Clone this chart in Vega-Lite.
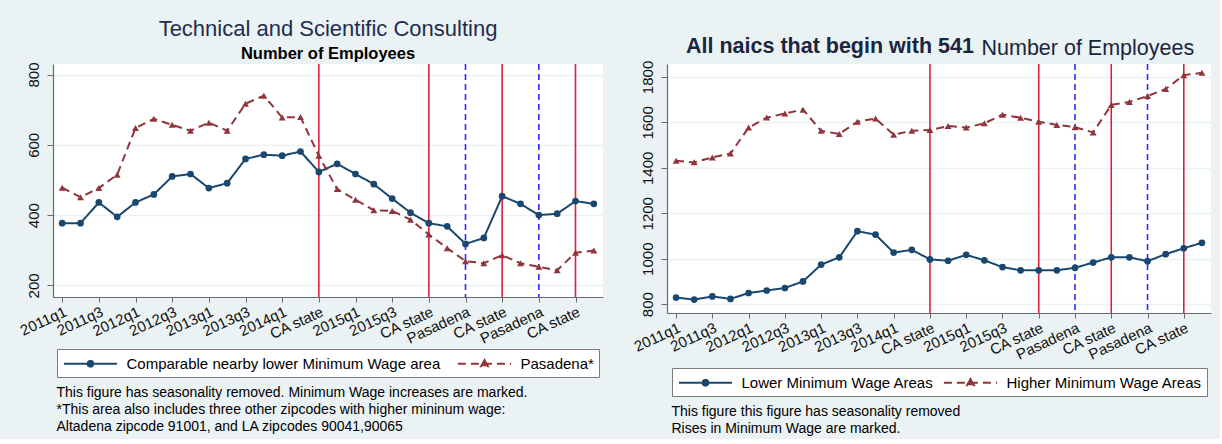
{
  "$schema": "https://vega.github.io/schema/vega-lite/v6.json",
  "background": "#eaf2f3",
  "padding": {"left": 17, "top": 18, "right": 9, "bottom": 4},
  "config": {
    "font": "Liberation Sans",
    "view": {"fill": "white", "stroke": null},
    "axis": {"labelFont": "Liberation Sans", "titleFont": "Liberation Sans", "domainColor": "#6a6a6a", "tickColor": "#6a6a6a", "labelColor": "#111111", "titleColor": "#000000", "domainWidth": 1.2},
    "legend": {"labelFont": "Liberation Sans"},
    "title": {"font": "Liberation Sans", "subtitleFont": "Liberation Sans"}
  },
  "datasets": {
    "ca": [{"quarter": "2014q3"}, {"quarter": "2016q1"}, {"quarter": "2017q1"}, {"quarter": "2018q1"}],
    "pas": [{"quarter": "2016q3"}, {"quarter": "2017q3"}],
    "consulting": [
      {"quarter": "2011q1", "series": "Comparable nearby lower Minimum Wage area", "employees": 377},
      {"quarter": "2011q2", "series": "Comparable nearby lower Minimum Wage area", "employees": 377},
      {"quarter": "2011q3", "series": "Comparable nearby lower Minimum Wage area", "employees": 436},
      {"quarter": "2011q4", "series": "Comparable nearby lower Minimum Wage area", "employees": 395},
      {"quarter": "2012q1", "series": "Comparable nearby lower Minimum Wage area", "employees": 436},
      {"quarter": "2012q2", "series": "Comparable nearby lower Minimum Wage area", "employees": 459},
      {"quarter": "2012q3", "series": "Comparable nearby lower Minimum Wage area", "employees": 510},
      {"quarter": "2012q4", "series": "Comparable nearby lower Minimum Wage area", "employees": 517},
      {"quarter": "2013q1", "series": "Comparable nearby lower Minimum Wage area", "employees": 477},
      {"quarter": "2013q2", "series": "Comparable nearby lower Minimum Wage area", "employees": 491},
      {"quarter": "2013q3", "series": "Comparable nearby lower Minimum Wage area", "employees": 560},
      {"quarter": "2013q4", "series": "Comparable nearby lower Minimum Wage area", "employees": 572},
      {"quarter": "2014q1", "series": "Comparable nearby lower Minimum Wage area", "employees": 569},
      {"quarter": "2014q2", "series": "Comparable nearby lower Minimum Wage area", "employees": 581},
      {"quarter": "2014q3", "series": "Comparable nearby lower Minimum Wage area", "employees": 523},
      {"quarter": "2014q4", "series": "Comparable nearby lower Minimum Wage area", "employees": 546},
      {"quarter": "2015q1", "series": "Comparable nearby lower Minimum Wage area", "employees": 517},
      {"quarter": "2015q2", "series": "Comparable nearby lower Minimum Wage area", "employees": 488},
      {"quarter": "2015q3", "series": "Comparable nearby lower Minimum Wage area", "employees": 447},
      {"quarter": "2015q4", "series": "Comparable nearby lower Minimum Wage area", "employees": 407},
      {"quarter": "2016q1", "series": "Comparable nearby lower Minimum Wage area", "employees": 377},
      {"quarter": "2016q2", "series": "Comparable nearby lower Minimum Wage area", "employees": 368},
      {"quarter": "2016q3", "series": "Comparable nearby lower Minimum Wage area", "employees": 318},
      {"quarter": "2016q4", "series": "Comparable nearby lower Minimum Wage area", "employees": 335},
      {"quarter": "2017q1", "series": "Comparable nearby lower Minimum Wage area", "employees": 454},
      {"quarter": "2017q2", "series": "Comparable nearby lower Minimum Wage area", "employees": 432},
      {"quarter": "2017q3", "series": "Comparable nearby lower Minimum Wage area", "employees": 400},
      {"quarter": "2017q4", "series": "Comparable nearby lower Minimum Wage area", "employees": 404},
      {"quarter": "2018q1", "series": "Comparable nearby lower Minimum Wage area", "employees": 440},
      {"quarter": "2018q2", "series": "Comparable nearby lower Minimum Wage area", "employees": 432},
      {"quarter": "2011q1", "series": "Pasadena*", "employees": 478},
      {"quarter": "2011q2", "series": "Pasadena*", "employees": 451},
      {"quarter": "2011q3", "series": "Pasadena*", "employees": 477},
      {"quarter": "2011q4", "series": "Pasadena*", "employees": 515},
      {"quarter": "2012q1", "series": "Pasadena*", "employees": 648},
      {"quarter": "2012q2", "series": "Pasadena*", "employees": 674},
      {"quarter": "2012q3", "series": "Pasadena*", "employees": 657},
      {"quarter": "2012q4", "series": "Pasadena*", "employees": 640},
      {"quarter": "2013q1", "series": "Pasadena*", "employees": 663},
      {"quarter": "2013q2", "series": "Pasadena*", "employees": 640},
      {"quarter": "2013q3", "series": "Pasadena*", "employees": 717},
      {"quarter": "2013q4", "series": "Pasadena*", "employees": 740},
      {"quarter": "2014q1", "series": "Pasadena*", "employees": 678},
      {"quarter": "2014q2", "series": "Pasadena*", "employees": 679},
      {"quarter": "2014q3", "series": "Pasadena*", "employees": 569},
      {"quarter": "2014q4", "series": "Pasadena*", "employees": 474},
      {"quarter": "2015q1", "series": "Pasadena*", "employees": 444},
      {"quarter": "2015q2", "series": "Pasadena*", "employees": 414},
      {"quarter": "2015q3", "series": "Pasadena*", "employees": 412},
      {"quarter": "2015q4", "series": "Pasadena*", "employees": 387},
      {"quarter": "2016q1", "series": "Pasadena*", "employees": 345},
      {"quarter": "2016q2", "series": "Pasadena*", "employees": 306},
      {"quarter": "2016q3", "series": "Pasadena*", "employees": 269},
      {"quarter": "2016q4", "series": "Pasadena*", "employees": 263},
      {"quarter": "2017q1", "series": "Pasadena*", "employees": 286},
      {"quarter": "2017q2", "series": "Pasadena*", "employees": 263},
      {"quarter": "2017q3", "series": "Pasadena*", "employees": 253},
      {"quarter": "2017q4", "series": "Pasadena*", "employees": 243},
      {"quarter": "2018q1", "series": "Pasadena*", "employees": 293},
      {"quarter": "2018q2", "series": "Pasadena*", "employees": 299}
    ],
    "naics541": [
      {"quarter": "2011q1", "area": "Lower Minimum Wage Areas", "employees": 829},
      {"quarter": "2011q2", "area": "Lower Minimum Wage Areas", "employees": 820},
      {"quarter": "2011q3", "area": "Lower Minimum Wage Areas", "employees": 834},
      {"quarter": "2011q4", "area": "Lower Minimum Wage Areas", "employees": 823},
      {"quarter": "2012q1", "area": "Lower Minimum Wage Areas", "employees": 849},
      {"quarter": "2012q2", "area": "Lower Minimum Wage Areas", "employees": 860},
      {"quarter": "2012q3", "area": "Lower Minimum Wage Areas", "employees": 871},
      {"quarter": "2012q4", "area": "Lower Minimum Wage Areas", "employees": 900},
      {"quarter": "2013q1", "area": "Lower Minimum Wage Areas", "employees": 974},
      {"quarter": "2013q2", "area": "Lower Minimum Wage Areas", "employees": 1006},
      {"quarter": "2013q3", "area": "Lower Minimum Wage Areas", "employees": 1121},
      {"quarter": "2013q4", "area": "Lower Minimum Wage Areas", "employees": 1106},
      {"quarter": "2014q1", "area": "Lower Minimum Wage Areas", "employees": 1027},
      {"quarter": "2014q2", "area": "Lower Minimum Wage Areas", "employees": 1039},
      {"quarter": "2014q3", "area": "Lower Minimum Wage Areas", "employees": 997},
      {"quarter": "2014q4", "area": "Lower Minimum Wage Areas", "employees": 991},
      {"quarter": "2015q1", "area": "Lower Minimum Wage Areas", "employees": 1017},
      {"quarter": "2015q2", "area": "Lower Minimum Wage Areas", "employees": 993},
      {"quarter": "2015q3", "area": "Lower Minimum Wage Areas", "employees": 963},
      {"quarter": "2015q4", "area": "Lower Minimum Wage Areas", "employees": 949},
      {"quarter": "2016q1", "area": "Lower Minimum Wage Areas", "employees": 949},
      {"quarter": "2016q2", "area": "Lower Minimum Wage Areas", "employees": 949},
      {"quarter": "2016q3", "area": "Lower Minimum Wage Areas", "employees": 960},
      {"quarter": "2016q4", "area": "Lower Minimum Wage Areas", "employees": 983},
      {"quarter": "2017q1", "area": "Lower Minimum Wage Areas", "employees": 1006},
      {"quarter": "2017q2", "area": "Lower Minimum Wage Areas", "employees": 1006},
      {"quarter": "2017q3", "area": "Lower Minimum Wage Areas", "employees": 989},
      {"quarter": "2017q4", "area": "Lower Minimum Wage Areas", "employees": 1020},
      {"quarter": "2018q1", "area": "Lower Minimum Wage Areas", "employees": 1046},
      {"quarter": "2018q2", "area": "Lower Minimum Wage Areas", "employees": 1070},
      {"quarter": "2011q1", "area": "Higher Minimum Wage Areas", "employees": 1431},
      {"quarter": "2011q2", "area": "Higher Minimum Wage Areas", "employees": 1424},
      {"quarter": "2011q3", "area": "Higher Minimum Wage Areas", "employees": 1446},
      {"quarter": "2011q4", "area": "Higher Minimum Wage Areas", "employees": 1463},
      {"quarter": "2012q1", "area": "Higher Minimum Wage Areas", "employees": 1577},
      {"quarter": "2012q2", "area": "Higher Minimum Wage Areas", "employees": 1621},
      {"quarter": "2012q3", "area": "Higher Minimum Wage Areas", "employees": 1639},
      {"quarter": "2012q4", "area": "Higher Minimum Wage Areas", "employees": 1656},
      {"quarter": "2013q1", "area": "Higher Minimum Wage Areas", "employees": 1563},
      {"quarter": "2013q2", "area": "Higher Minimum Wage Areas", "employees": 1549},
      {"quarter": "2013q3", "area": "Higher Minimum Wage Areas", "employees": 1603},
      {"quarter": "2013q4", "area": "Higher Minimum Wage Areas", "employees": 1617},
      {"quarter": "2014q1", "area": "Higher Minimum Wage Areas", "employees": 1546},
      {"quarter": "2014q2", "area": "Higher Minimum Wage Areas", "employees": 1563},
      {"quarter": "2014q3", "area": "Higher Minimum Wage Areas", "employees": 1566},
      {"quarter": "2014q4", "area": "Higher Minimum Wage Areas", "employees": 1584},
      {"quarter": "2015q1", "area": "Higher Minimum Wage Areas", "employees": 1577},
      {"quarter": "2015q2", "area": "Higher Minimum Wage Areas", "employees": 1596},
      {"quarter": "2015q3", "area": "Higher Minimum Wage Areas", "employees": 1634},
      {"quarter": "2015q4", "area": "Higher Minimum Wage Areas", "employees": 1620},
      {"quarter": "2016q1", "area": "Higher Minimum Wage Areas", "employees": 1603},
      {"quarter": "2016q2", "area": "Higher Minimum Wage Areas", "employees": 1589},
      {"quarter": "2016q3", "area": "Higher Minimum Wage Areas", "employees": 1579},
      {"quarter": "2016q4", "area": "Higher Minimum Wage Areas", "employees": 1556},
      {"quarter": "2017q1", "area": "Higher Minimum Wage Areas", "employees": 1677},
      {"quarter": "2017q2", "area": "Higher Minimum Wage Areas", "employees": 1690},
      {"quarter": "2017q3", "area": "Higher Minimum Wage Areas", "employees": 1716},
      {"quarter": "2017q4", "area": "Higher Minimum Wage Areas", "employees": 1747},
      {"quarter": "2018q1", "area": "Higher Minimum Wage Areas", "employees": 1808},
      {"quarter": "2018q2", "area": "Higher Minimum Wage Areas", "employees": 1818}
    ]
  },
  "spacing": 28,
  "align": "none",
  "resolve": {
    "scale": {"x": "independent", "y": "independent", "color": "independent", "strokeDash": "independent"},
    "legend": {"color": "independent", "strokeDash": "independent"}
  },
  "hconcat": [
    {
      "width": 550,
      "height": 233,
      "title": {
        "text": "Technical and Scientific Consulting",
        "subtitle": "Number of Employees",
        "anchor": "middle",
        "frame": "group",
        "fontSize": 22,
        "fontWeight": "normal",
        "color": "#1f2d4f",
        "subtitleFontSize": 16.5,
        "subtitleFontWeight": "bold",
        "subtitleColor": "#000000",
        "subtitlePadding": 5,
        "offset": 6.5,
        "dy": 8
      },
      "encoding": {
        "x": {
          "field": "quarter",
          "type": "ordinal",
          "scale": {"type": "point", "padding": 0.5},
          "axis": {
            "values": ["2011q1", "2011q3", "2012q1", "2012q3", "2013q1", "2013q3", "2014q1", "2014q3", "2015q1", "2015q3", "2016q1", "2016q3", "2017q1", "2017q3", "2018q1"],
            "labelExpr": "(datum.value == '2014q3' || datum.value == '2016q1' || datum.value == '2017q1' || datum.value == '2018q1') ? 'CA state' : ((datum.value == '2016q3' || datum.value == '2017q3') ? 'Pasadena' : datum.value)",
            "labelAngle": -25,
            "labelAlign": "right",
            "labelBaseline": "top",
            "labelFontSize": 15,
            "labelPadding": 2,
            "labelOverlap": false,
            "tickSize": 5,
            "grid": false,
            "title": ["This figure has seasonality removed. Minimum Wage increases are marked.", "*This area also includes three other zipcodes with higher mininum wage:", "Altadena zipcode 91001, and LA zipcodes 90041,90065"],
            "titleFontSize": 14,
            "titleFontWeight": "normal",
            "titleAnchor": "start",
            "titleAlign": "left",
            "titleBaseline": "top",
            "titleX": 3,
            "titleY": 88,
            "titleLineHeight": 17
          }
        }
      },
      "layer": [
        {"data": {"name": "ca"}, "mark": {"type": "rule", "color": "#d8203f", "strokeWidth": 1.6}, "encoding": {}},
        {"data": {"name": "pas"}, "mark": {"type": "rule", "color": "#2a2aff", "strokeWidth": 1.6, "strokeDash": [6, 4]}, "encoding": {}},
        {
          "data": {"name": "consulting"},
          "encoding": {
            "y": {
              "field": "employees",
              "type": "quantitative",
              "scale": {"domain": [167, 830], "nice": false, "zero": false},
              "axis": {"values": [200, 400, 600, 800], "format": "d", "labelAngle": -90, "labelAlign": "center", "labelBaseline": "bottom", "labelFontSize": 15, "labelPadding": 6, "tickSize": 6, "grid": true, "gridColor": "#eaf2f3", "gridWidth": 1.5, "title": null}
            },
            "color": {
              "field": "series",
              "type": "nominal",
              "scale": {"domain": ["Comparable nearby lower Minimum Wage area", "Pasadena*"], "range": ["#1a476f", "#90353b"]},
              "legend": {
                "orient": "none",
                "legendX": 4,
                "legendY": 285,
                "direction": "horizontal",
                "title": null,
                "fillColor": "white",
                "strokeColor": "#7a7a7a",
                "padding": 5,
                "labelFontSize": 15,
                "labelColor": "#000000",
                "labelLimit": 600,
                "symbolSize": 289,
                "symbolStrokeWidth": 2,
                "symbolOffset": 19,
                "labelOffset": 26.5,
                "columnPadding": 12,
                "encode": {
                  "symbols": {
                    "update": {
                      "shape": {"signal": "datum.value == 'Pasadena*' ? 'M-3.13,0H3.13M0,-0.42L0.4,0.3L-0.4,0.3Z' : 'M-3.13,0H3.13M0.34,0A0.34,0.34,0,1,1,-0.34,0A0.34,0.34,0,1,1,0.34,0Z'"},
                      "fill": {"signal": "datum.value == 'Pasadena*' ? '#90353b' : '#1a476f'"},
                      "fillOpacity": {"value": 1},
                      "opacity": {"value": 1}
                    }
                  }
                }
              }
            }
          },
          "layer": [
            {
              "mark": {"type": "line", "strokeWidth": 2},
              "encoding": {
                "strokeDash": {"field": "series", "type": "nominal", "scale": {"domain": ["Comparable nearby lower Minimum Wage area", "Pasadena*"], "range": [[1, 0], [8, 5]]}, "legend": null}
              }
            },
            {
              "transform": [{"filter": "datum.series == 'Pasadena*'"}],
              "mark": {"type": "point", "filled": true, "opacity": 1, "size": 48, "shape": "triangle-up"},
              "encoding": {}
            },
            {
              "transform": [{"filter": "datum.series != 'Pasadena*'"}],
              "mark": {"type": "point", "filled": true, "opacity": 1, "size": 45, "shape": "circle"},
              "encoding": {}
            }
          ]
        }
      ]
    },
    {
      "width": 544,
      "height": 249,
      "title": {
        "text": "All naics that begin with 541",
        "anchor": "start",
        "frame": "group",
        "dx": 19,
        "fontSize": 21.5,
        "fontWeight": "bold",
        "color": "#1a2540",
        "offset": -20
      },
      "encoding": {
        "x": {
          "field": "quarter",
          "type": "ordinal",
          "scale": {"type": "point", "padding": 0.5},
          "axis": {
            "values": ["2011q1", "2011q3", "2012q1", "2012q3", "2013q1", "2013q3", "2014q1", "2014q3", "2015q1", "2015q3", "2016q1", "2016q3", "2017q1", "2017q3", "2018q1"],
            "labelExpr": "(datum.value == '2014q3' || datum.value == '2016q1' || datum.value == '2017q1' || datum.value == '2018q1') ? 'CA state' : ((datum.value == '2016q3' || datum.value == '2017q3') ? 'Pasadena' : datum.value)",
            "labelAngle": -25,
            "labelAlign": "right",
            "labelBaseline": "top",
            "labelFontSize": 15,
            "labelPadding": 2,
            "labelOverlap": false,
            "tickSize": 5,
            "grid": false,
            "title": ["This figure this figure has seasonality removed", "Rises in Minimum Wage are marked."],
            "titleFontSize": 14,
            "titleFontWeight": "normal",
            "titleAnchor": "start",
            "titleAlign": "left",
            "titleBaseline": "top",
            "titleX": 4,
            "titleY": 91,
            "titleLineHeight": 17
          }
        }
      },
      "layer": [
        {"data": {"name": "ca"}, "mark": {"type": "rule", "color": "#d8203f", "strokeWidth": 1.6}, "encoding": {}},
        {"data": {"name": "pas"}, "mark": {"type": "rule", "color": "#2a2aff", "strokeWidth": 1.6, "strokeDash": [6, 4]}, "encoding": {}},
        {
          "data": {"name": "naics541"},
          "encoding": {
            "y": {
              "field": "employees",
              "type": "quantitative",
              "scale": {"domain": [761, 1857], "nice": false, "zero": false},
              "axis": {
                "values": [800, 1000, 1200, 1400, 1600, 1800],
                "format": "d",
                "labelAngle": -90, "labelAlign": "center", "labelBaseline": "bottom", "labelFontSize": 15, "labelPadding": 6, "tickSize": 6,
                "grid": true, "gridColor": "#eaf2f3", "gridWidth": 1.5,
                "title": "Number of Employees",
                "titleAngle": 0,
                "titleX": 314,
                "titleY": -10,
                "titleAlign": "left",
                "titleBaseline": "alphabetic",
                "titleFontSize": 21.5,
                "titleFontWeight": "normal",
                "titleColor": "#1a2540"
              }
            },
            "color": {
              "field": "area",
              "type": "nominal",
              "scale": {"domain": ["Lower Minimum Wage Areas", "Higher Minimum Wage Areas"], "range": ["#1a476f", "#90353b"]},
              "legend": {
                "orient": "none",
                "legendX": 5,
                "legendY": 304,
                "direction": "horizontal",
                "title": null,
                "fillColor": "white",
                "strokeColor": "#7a7a7a",
                "padding": 5,
                "labelFontSize": 15,
                "labelColor": "#000000",
                "labelLimit": 600,
                "symbolSize": 289,
                "symbolStrokeWidth": 2,
                "symbolOffset": 19,
                "labelOffset": 26.5,
                "columnPadding": 5,
                "encode": {
                  "symbols": {
                    "update": {
                      "shape": {"signal": "datum.value == 'Higher Minimum Wage Areas' ? 'M-3.13,0H3.13M0,-0.42L0.4,0.3L-0.4,0.3Z' : 'M-3.13,0H3.13M0.34,0A0.34,0.34,0,1,1,-0.34,0A0.34,0.34,0,1,1,0.34,0Z'"},
                      "fill": {"signal": "datum.value == 'Higher Minimum Wage Areas' ? '#90353b' : '#1a476f'"},
                      "fillOpacity": {"value": 1},
                      "opacity": {"value": 1}
                    }
                  }
                }
              }
            }
          },
          "layer": [
            {
              "mark": {"type": "line", "strokeWidth": 2},
              "encoding": {
                "strokeDash": {"field": "area", "type": "nominal", "scale": {"domain": ["Lower Minimum Wage Areas", "Higher Minimum Wage Areas"], "range": [[1, 0], [8, 5]]}, "legend": null}
              }
            },
            {
              "transform": [{"filter": "datum.area == 'Higher Minimum Wage Areas'"}],
              "mark": {"type": "point", "filled": true, "opacity": 1, "size": 48, "shape": "triangle-up"},
              "encoding": {}
            },
            {
              "transform": [{"filter": "datum.area != 'Higher Minimum Wage Areas'"}],
              "mark": {"type": "point", "filled": true, "opacity": 1, "size": 45, "shape": "circle"},
              "encoding": {}
            }
          ]
        }
      ]
    }
  ]
}
